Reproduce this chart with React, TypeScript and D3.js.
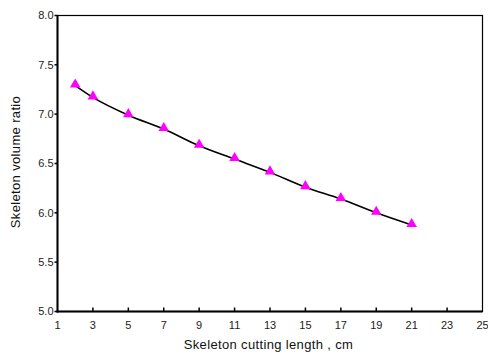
import * as d3 from "d3";

const lengths = [2, 3, 5, 7, 9, 11, 13, 15, 17, 19, 21];
const ratios = [7.29, 7.17, 6.99, 6.85, 6.68, 6.545, 6.41, 6.26, 6.14, 6.0, 5.877];
const xTicks = [1, 3, 5, 7, 9, 11, 13, 15, 17, 19, 21, 23, 25];
const yTicks = [5.0, 5.5, 6.0, 6.5, 7.0, 7.5, 8.0];

export default function App() {
  const width = 488;
  const height = 354;
  const marginLeft = 57.5;
  const marginRight = 5.5;
  const marginTop = 15.5;
  const marginBottom = 42.5;

  const x = d3.scaleLinear().domain([1, 25]).range([marginLeft, width - marginRight]);
  const y = d3.scaleLinear().domain([5, 8]).range([height - marginBottom, marginTop]);

  const pts: [number, number][] = lengths.map((l, i) => [l, ratios[i]]);
  const line = d3
    .line<[number, number]>()
    .x((d) => x(d[0]))
    .y((d) => y(d[1]))
    .curve(d3.curveMonotoneX);

  const tri = d3.symbol().type(d3.symbolTriangle).size(48)();
  const font = "Liberation Sans, Arial, sans-serif";

  return (
    <svg
      width={width}
      height={height}
      style={{ position: "absolute", left: 0, top: 0, background: "#fff" }}
    >
      {/* frame */}
      <rect
        x={marginLeft}
        y={marginTop}
        width={width - marginLeft - marginRight}
        height={height - marginTop - marginBottom}
        fill="none"
        stroke="#000"
        strokeWidth={1.2}
      />
      <line x1={marginLeft} x2={marginLeft} y1={marginTop} y2={y(5) + 1} stroke="#000" strokeWidth={2} />
      <line x1={marginLeft - 1} x2={width - marginRight} y1={y(5)} y2={y(5)} stroke="#000" strokeWidth={2} />

      {yTicks.map((t) => (
        <g key={"y" + t}>
          <line x1={marginLeft - 3} x2={marginLeft} y1={y(t)} y2={y(t)} stroke="#000" strokeWidth={1.5} />
          <text
            x={marginLeft - 4}
            y={y(t)}
            dy="0.35em"
            textAnchor="end"
            fontSize={11}
            fontFamily={font}
            fill="#222"
          >
            {d3.format(".1f")(t)}
          </text>
        </g>
      ))}

      {xTicks.map((t) => (
        <g key={"x" + t}>
          {t > 1 && t < 25 && (
            <line x1={x(t)} x2={x(t)} y1={y(5)} y2={y(5) - 4} stroke="#000" strokeWidth={1.5} />
          )}
          <text
            x={x(t)}
            y={y(5) + 17}
            textAnchor="middle"
            fontSize={11}
            fontFamily={font}
            fill="#222"
          >
            {t}
          </text>
        </g>
      ))}

      <path d={line(pts) ?? ""} fill="none" stroke="#000" strokeWidth={1.6} />
      {pts.map((d, i) => (
        <path
          key={i}
          d={tri ?? ""}
          transform={`translate(${x(d[0])},${y(d[1]) - 1})`}
          fill="#ff00ff"
        />
      ))}

      <text
        x={268.5}
        y={349}
        textAnchor="middle"
        fontSize={13}
        letterSpacing={0.35}
        fontFamily={font}
        fill="#111"
      >
        Skeleton cutting length , cm
      </text>
      <text
        transform={`translate(20,162) rotate(-90)`}
        textAnchor="middle"
        fontSize={13}
        letterSpacing={0.35}
        fontFamily={font}
        fill="#111"
      >
        Skeleton volume ratio
      </text>
    </svg>
  );
}
